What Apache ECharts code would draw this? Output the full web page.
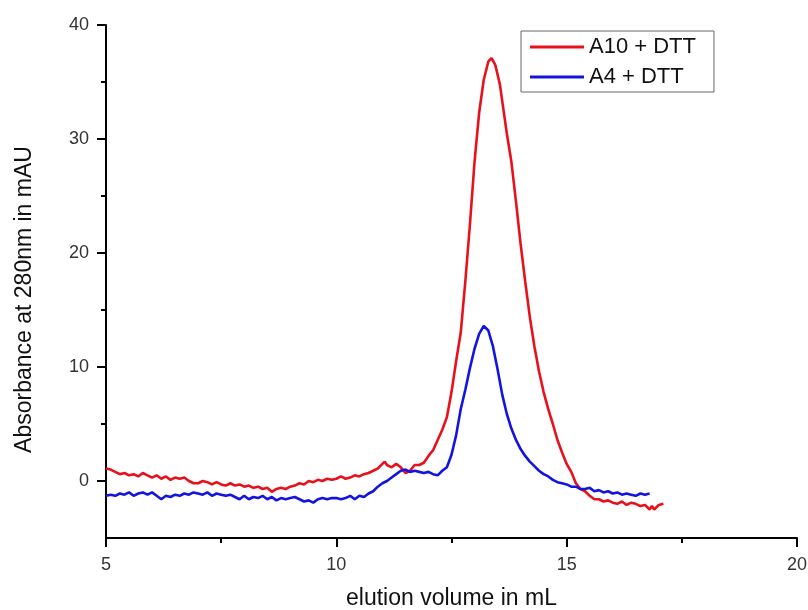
<!DOCTYPE html>
<html>
<head>
<meta charset="utf-8">
<script src="https://cdn.jsdelivr.net/npm/echarts@6/dist/echarts.min.js"></script>
<style>html,body{margin:0;padding:0;background:#fff}#c{width:808px;height:610px}</style>
</head>
<body>
<div id="c"></div>
<script>
var redVolume = [5.0,5.1,5.2,5.3,5.4,5.5,5.6,5.7,5.8,5.9,6.0,6.1,6.2,6.3,6.4,6.5,6.6,6.7,6.8,6.9,7.0,7.1,7.2,7.3,7.4,7.5,7.6,7.7,7.8,7.9,8.0,8.1,8.2,8.3,8.4,8.5,8.6,8.7,8.8,8.9,9.0,9.1,9.2,9.3,9.4,9.5,9.6,9.7,9.8,9.9,10.0,10.1,10.2,10.3,10.4,10.5,10.6,10.7,10.8,10.9,11.0,11.05,11.1,11.2,11.3,11.4,11.5,11.6,11.7,11.8,11.9,12.0,12.1,12.2,12.3,12.4,12.5,12.6,12.7,12.8,12.9,13.0,13.1,13.2,13.3,13.37,13.45,13.55,13.62,13.7,13.8,13.9,14.0,14.1,14.2,14.3,14.4,14.5,14.6,14.7,14.8,14.9,15.0,15.1,15.2,15.3,15.4,15.5,15.6,15.7,15.8,15.9,16.0,16.1,16.2,16.3,16.4,16.5,16.6,16.7,16.8,16.85,16.9,17.0,17.1];
var redAbs = [1.1,1.0,0.8,0.6,0.7,0.5,0.6,0.4,0.7,0.5,0.3,0.5,0.2,0.4,0.1,0.3,0.2,0.3,0.0,-0.2,-0.2,0.0,-0.1,-0.3,-0.1,-0.3,-0.4,-0.2,-0.4,-0.3,-0.5,-0.4,-0.6,-0.5,-0.7,-0.6,-0.95,-0.7,-0.6,-0.7,-0.5,-0.4,-0.2,-0.3,0.0,-0.1,0.1,0.0,0.2,0.1,0.2,0.4,0.2,0.3,0.5,0.4,0.6,0.7,0.9,1.1,1.5,1.7,1.4,1.2,1.5,1.2,0.7,0.9,1.4,1.4,1.6,2.2,2.7,3.6,4.5,5.6,7.8,10.5,13.0,17.5,22.5,28.0,32.3,35.2,36.8,37.1,36.5,34.8,32.8,30.5,28.0,24.5,20.8,17.5,14.4,11.8,9.6,7.8,6.3,5.0,3.6,2.5,1.5,0.8,-0.2,-0.7,-0.9,-1.3,-1.6,-1.6,-1.8,-1.7,-1.9,-2.0,-1.8,-2.1,-1.9,-2.0,-2.2,-2.1,-2.5,-2.2,-2.5,-2.1,-2.0];
var blueVolume = [5.0,5.1,5.2,5.3,5.4,5.5,5.6,5.7,5.8,5.9,6.0,6.1,6.2,6.3,6.4,6.5,6.6,6.7,6.8,6.9,7.0,7.1,7.2,7.3,7.4,7.5,7.6,7.7,7.8,7.9,8.0,8.1,8.2,8.3,8.4,8.5,8.6,8.7,8.8,8.9,9.0,9.1,9.2,9.3,9.4,9.5,9.6,9.7,9.8,9.9,10.0,10.1,10.2,10.3,10.4,10.5,10.6,10.7,10.8,10.9,11.0,11.1,11.2,11.3,11.4,11.5,11.6,11.7,11.8,11.9,12.0,12.1,12.2,12.3,12.4,12.5,12.6,12.7,12.8,12.9,13.0,13.1,13.2,13.3,13.4,13.5,13.6,13.7,13.8,13.9,14.0,14.1,14.2,14.3,14.4,14.5,14.6,14.7,14.8,14.9,15.0,15.1,15.2,15.3,15.4,15.5,15.6,15.7,15.8,15.9,16.0,16.1,16.2,16.3,16.4,16.5,16.6,16.7,16.8];
var blueAbs = [-1.3,-1.2,-1.3,-1.1,-1.2,-1.0,-1.3,-1.1,-1.0,-1.2,-1.0,-1.3,-1.6,-1.3,-1.4,-1.2,-1.3,-1.1,-1.2,-1.0,-1.1,-1.2,-1.0,-1.3,-1.1,-1.2,-1.3,-1.2,-1.4,-1.6,-1.3,-1.6,-1.4,-1.5,-1.3,-1.6,-1.4,-1.7,-1.5,-1.6,-1.5,-1.4,-1.6,-1.8,-1.7,-1.9,-1.6,-1.5,-1.6,-1.5,-1.5,-1.6,-1.5,-1.3,-1.6,-1.3,-1.4,-1.1,-0.9,-0.5,-0.2,0.0,0.3,0.6,0.9,1.0,0.8,0.9,0.8,0.7,0.8,0.6,0.5,0.9,1.2,2.3,4.0,6.3,8.0,9.9,11.6,12.9,13.6,13.2,11.8,9.8,7.6,5.9,4.6,3.6,2.8,2.2,1.7,1.3,0.9,0.6,0.4,0.1,-0.1,-0.2,-0.3,-0.5,-0.5,-0.7,-0.7,-0.6,-0.9,-0.8,-1.0,-0.9,-1.1,-1.0,-1.2,-1.1,-1.2,-1.3,-1.1,-1.2,-1.1];
var xTicks = [5, 10, 15, 20];
var yTicks = [0, 10, 20, 30, 40];
var yMinorTicks = [5, 15, 25, 35];

function pairs(xs, ys) { return xs.map(function (x, i) { return [x, ys[i]]; }); }

var FONT = 'Liberation Sans, Arial, sans-serif';
var chart = echarts.init(document.getElementById('c'), null, { renderer: 'canvas' });
chart.setOption({
  animation: false,
  backgroundColor: '#fff',
  grid: { left: 106, right: 11, top: 25, bottom: 72, containLabel: false, outerBoundsMode: 'none' },
  legend: {
    orient: 'vertical', left: 521, top: 31,
    padding: [5, 18, 4, 9], itemGap: 8,
    itemWidth: 54, itemHeight: 3, icon: 'rect',
    borderColor: '#666', borderWidth: 1,
    textStyle: { fontFamily: FONT, fontSize: 22, lineHeight: 22, color: '#111' },
    data: ['A10 + DTT', 'A4 + DTT']
  },
  xAxis: {
    type: 'value', min: 5, max: 20, interval: 5,
    name: 'elution volume in mL', nameLocation: 'middle', nameGap: 49,
    nameTextStyle: { fontFamily: FONT, fontSize: 23, color: '#111' },
    axisLine: { show: true, onZero: false, lineStyle: { color: '#000', width: 2 } },
    axisTick: { show: true, length: 9, customValues: xTicks, lineStyle: { color: '#000', width: 2 } },
    minorTick: { show: true, splitNumber: 2, length: 5, lineStyle: { color: '#000', width: 2 } },
    axisLabel: { fontFamily: FONT, fontSize: 18, color: '#333', margin: 18, customValues: xTicks },
    splitLine: { show: false }
  },
  yAxis: [{
    type: 'value', min: -5, max: 40,
    name: 'Absorbance at 280nm in mAU', nameLocation: 'middle', nameGap: 70,
    nameTextStyle: { fontFamily: FONT, fontSize: 23, color: '#111', padding: [0, 36, 0, 0] },
    axisLine: { show: true, onZero: false, lineStyle: { color: '#000', width: 2 } },
    axisTick: { show: true, length: 9, customValues: yTicks, lineStyle: { color: '#000', width: 2 } },
    axisLabel: { fontFamily: FONT, fontSize: 18, color: '#333', margin: 17, customValues: yTicks },
    splitLine: { show: false }
  }, {
    type: 'value', min: -5, max: 40, position: 'left',
    axisLine: { show: false },
    axisTick: { show: true, length: 5, customValues: yMinorTicks, lineStyle: { color: '#000', width: 2 } },
    axisLabel: { show: false },
    splitLine: { show: false }
  }],
  series: [{
    name: 'A10 + DTT', type: 'line', showSymbol: false, symbol: 'none',
    data: pairs(redVolume, redAbs),
    lineStyle: { color: '#e8101a', width: 2.6 }, itemStyle: { color: '#e8101a' }
  }, {
    name: 'A4 + DTT', type: 'line', showSymbol: false, symbol: 'none',
    data: pairs(blueVolume, blueAbs),
    lineStyle: { color: '#1414e0', width: 2.6 }, itemStyle: { color: '#1414e0' }
  }]
});
</script>
</body>
</html>
